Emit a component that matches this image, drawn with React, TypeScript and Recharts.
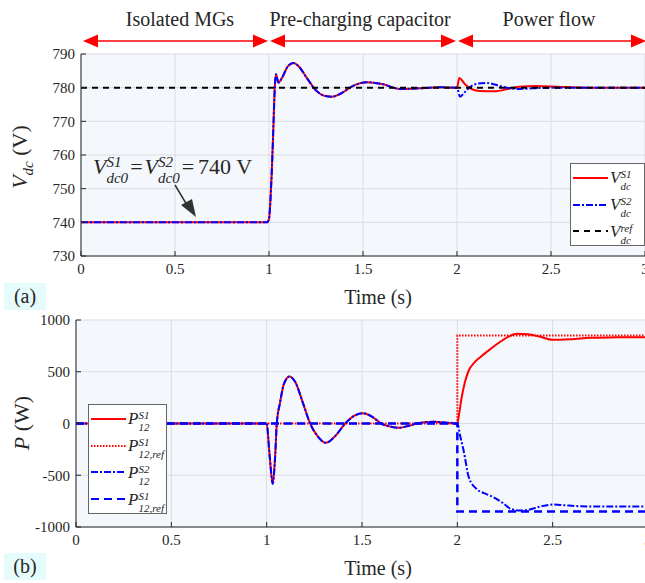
import { LineChart, Line, XAxis, YAxis, CartesianGrid } from 'recharts';

const FONT = '"Liberation Serif", Tinos, "Times New Roman", "Nimbus Roman", "DejaVu Serif", serif';
const INK = '#262626';
const RED = '#FF0000';
const BLUE = '#0000FF';
const BG = '#F4F7FC';
const GRID = '#DADDE2';

const T_TICKS = [0, 0.5, 1, 1.5, 2, 2.5, 3];
const V_TICKS = [730, 740, 750, 760, 770, 780, 790];
const P_TICKS = [-1000, -500, 0, 500, 1000];

// Vdc: both stations follow the same trace until the power flow starts at 2 s
const V_PRE_T = [0, 0.99, 1.0, 1.007, 1.014, 1.022, 1.03, 1.037, 1.05, 1.07, 1.1, 1.13, 1.16, 1.2, 1.25, 1.3, 1.335, 1.38, 1.45, 1.52, 1.6, 1.7, 1.8, 1.9, 2.0];
const V_PRE = [740, 740, 741, 746, 754, 766, 779, 784, 781.5, 783, 786.3, 787.3, 786.2, 783, 779.2, 777.5, 777.3, 778.2, 780.6, 781.6, 781.1, 779.6, 779.8, 780.1, 780];
const V1_POST_T = [2.012, 2.04, 2.07, 2.12, 2.2, 2.27, 2.33, 2.42, 2.55, 2.7, 3.0];
const V1_POST = [782.9, 781.2, 779.8, 779.0, 778.9, 779.6, 780.3, 780.5, 780.2, 780, 780];
const V2_POST_T = [2.016, 2.04, 2.07, 2.11, 2.16, 2.22, 2.28, 2.33, 2.4, 2.55, 2.7, 3.0];
const V2_POST = [777.3, 778.6, 780.2, 781.2, 781.4, 780.6, 779.8, 779.6, 779.8, 780, 780, 780];
const VREF_T = [0, 3];
const VREF = [780, 780];

// Power P12
const P_PRE_T = [0, 1.0, 1.015, 1.032, 1.045, 1.053, 1.07, 1.09, 1.12, 1.15, 1.19, 1.228, 1.27, 1.31, 1.36, 1.412, 1.46, 1.503, 1.55, 1.6, 1.65, 1.69, 1.74, 1.79, 1.83, 1.876, 1.93, 2.0];
const P_PRE = [0, 0, -300, -583, -300, 0, 200, 380, 454, 400, 200, 0, -130, -187, -120, 0, 75, 100, 70, 0, -30, -42, -25, 0, 12, 17, 10, 0];
const P1_POST_T = [2.01, 2.02, 2.04, 2.06, 2.09, 2.12, 2.16, 2.21, 2.26, 2.313, 2.37, 2.43, 2.5, 2.6, 2.7, 2.8, 2.9, 3.0];
const P1_POST = [100, 222, 400, 512, 590, 641, 700, 770, 830, 866, 862, 840, 808, 815, 828, 832, 833, 832];
const P2_POST_T = [2.015, 2.033, 2.06, 2.1, 2.15, 2.19, 2.24, 2.28, 2.33, 2.37, 2.44, 2.505, 2.56, 2.65, 2.8, 3.0];
const P2_POST = [-120, -261, -519, -631, -680, -712, -770, -824, -841, -835, -800, -783, -790, -800, -803, -803];
const PREF_T = [0, 2, 2, 3];
const P1_REF = [0, 0, 850, 850];
const P2_REF = [0, 0, -850, -850];

const zip = (t: number[], v: number[]) => t.map((x, i) => ({ t: x, v: v[i] }));

const v1 = zip([...V_PRE_T, ...V1_POST_T], [...V_PRE, ...V1_POST]);
const v2 = zip([...V_PRE_T, ...V2_POST_T], [...V_PRE, ...V2_POST]);
const vref = zip(VREF_T, VREF);
const p1 = zip([...P_PRE_T, ...P1_POST_T], [...P_PRE, ...P1_POST]);
const p2 = zip([...P_PRE_T, ...P2_POST_T], [...P_PRE, ...P2_POST]);
const p1ref = zip(PREF_T, P1_REF);
const p2ref = zip(PREF_T, P2_REF);

const GAP = 6;
const MARK = 5;

function BottomTick({ x, y, payload }: any) {
  return (
    <g>
      <line x1={x} x2={x} y1={y - GAP} y2={y - GAP - MARK} stroke={INK} />
      <text x={x} y={y} dy="0.78em" textAnchor="middle" fontFamily={FONT} fontSize={15} fill={INK}>{payload.value}</text>
    </g>
  );
}

function LeftTick({ x, y, payload }: any) {
  return (
    <g>
      <line x1={x + GAP} x2={x + GAP + MARK} y1={y} y2={y} stroke={INK} />
      <text x={x} y={y} dy="0.35em" textAnchor="end" fontFamily={FONT} fontSize={15} fill={INK}>{payload.value}</text>
    </g>
  );
}

const TopTick = ({ x, y }: any) => <line x1={x} x2={x} y1={y} y2={y + MARK} stroke={INK} />;
const RightTick = ({ x, y }: any) => <line x1={x} x2={x - MARK} y1={y} y2={y} stroke={INK} />;

function Frame({ ticks, domain, yWidth }: { ticks: number[]; domain: [number, number]; yWidth: number }) {
  return [
    <CartesianGrid key="g" stroke={GRID} fill={BG} fillOpacity={1} />,
    <XAxis key="x" dataKey="t" type="number" domain={[0, 3]} ticks={T_TICKS} interval={0} height={34}
      tickSize={0} tickMargin={GAP} tick={(p: any) => <BottomTick {...p} />} axisLine={{ stroke: INK }} />,
    <XAxis key="xt" xAxisId="top" orientation="top" type="number" domain={[0, 3]} ticks={T_TICKS} interval={0} height={0}
      tickSize={0} tickMargin={0} tick={(p: any) => <TopTick {...p} />} axisLine={{ stroke: INK }} />,
    <YAxis key="y" type="number" domain={domain} ticks={ticks} interval={0} width={yWidth} allowDataOverflow
      tickSize={0} tickMargin={GAP} tick={(p: any) => <LeftTick {...p} />} axisLine={{ stroke: INK }} />,
    <YAxis key="yr" yAxisId="right" orientation="right" type="number" domain={domain} ticks={ticks} interval={0} width={0}
      tickSize={0} tickMargin={0} tick={(p: any) => <RightTick {...p} />} axisLine={{ stroke: INK }} />,
  ];
}

function Scripted({ base, sup, sub, size, small }: { base: string; sup: string; sub: string; size: number; small: number }) {
  return (
    <span style={{ display: 'inline-flex', alignItems: 'center', fontStyle: 'italic', lineHeight: 1 }}>
      <span style={{ fontSize: size }}>{base}</span>
      <span style={{ display: 'inline-flex', flexDirection: 'column', fontSize: small, lineHeight: 1.1, marginTop: small * 0.45 }}>
        <span>{sup}</span>
        <span>{sub}</span>
      </span>
    </span>
  );
}

function Sample({ dash, color, width = 2 }: { dash?: string; color: string; width?: number }) {
  return (
    <svg width={35} height={8} style={{ display: 'block', flex: 'none' }}>
      <line x1={0} x2={35} y1={4} y2={4} stroke={color} strokeWidth={width} strokeDasharray={dash} />
    </svg>
  );
}

const V_LEGEND = [
  { color: RED, dash: undefined, sup: 'S1', sub: 'dc' },
  { color: BLUE, dash: '7 2 2 2', sup: 'S2', sub: 'dc' },
  { color: '#000', dash: '6 5', sup: 'ref', sub: 'dc' },
];
const P_LEGEND = [
  { color: RED, dash: undefined, sup: 'S1', sub: '12' },
  { color: RED, dash: '1.5 1.5', sup: 'S1', sub: '12,ref' },
  { color: BLUE, dash: '7 2 2 2', sup: 'S2', sub: '12' },
  { color: BLUE, dash: '8 5', sup: 'S1', sub: '12,ref' },
];

function LegendBox({ items, base, left, top, width, height }: any) {
  return (
    <div style={{ position: 'absolute', left, top, width, height, boxSizing: 'border-box', border: '1px solid #666', background: '#fff',
      display: 'flex', flexDirection: 'column', justifyContent: 'space-evenly', padding: '0 2px', fontFamily: FONT, color: INK, overflow: 'hidden' }}>
      {items.map((it: any, i: number) => (
        <div key={i} style={{ display: 'flex', alignItems: 'center', gap: 2, height: 26 }}>
          <Sample color={it.color} dash={it.dash} />
          <Scripted base={base} sup={it.sup} sub={it.sub} size={17} small={11} />
        </div>
      ))}
    </div>
  );
}

function Arrow2({ x1, x2, y }: { x1: number; x2: number; y: number }) {
  const L = 15;
  const H = 6.5;
  return (
    <g fill={RED} stroke="none">
      <line x1={x1 + L - 2} x2={x2 - L + 2} y1={y} y2={y} stroke={RED} strokeWidth={1.5} />
      <polygon points={`${x1},${y} ${x1 + L},${y - H} ${x1 + L},${y + H}`} />
      <polygon points={`${x2},${y} ${x2 - L},${y - H} ${x2 - L},${y + H}`} />
    </g>
  );
}

const PHASES = [
  { label: 'Isolated MGs', cx: 180, x1: 83, x2: 268 },
  { label: 'Pre-charging capacitor', cx: 360, x1: 270, x2: 456 },
  { label: 'Power flow', cx: 549, x1: 458, x2: 646 },
];

const tag = (text: string, top: number) => (
  <div style={{ position: 'absolute', left: 4, top, width: 42, height: 27, background: '#E6FBFB', fontFamily: FONT, fontSize: 20,
    color: INK, display: 'flex', alignItems: 'center', justifyContent: 'center' }}>{text}</div>
);

const xTitle = (top: number) => (
  <div style={{ position: 'absolute', left: 378, top, transform: 'translate(-50%, -50%)', fontFamily: FONT, fontSize: 20, color: INK, whiteSpace: 'nowrap' }}>Time (s)</div>
);

const yTitle = (cy: number, content: any) => (
  <div style={{ position: 'absolute', left: 22, top: cy, transform: 'translate(-50%, -50%) rotate(-90deg)', fontFamily: FONT, fontSize: 22,
    color: INK, whiteSpace: 'nowrap' }}>{content}</div>
);

export default function App() {
  return (
    <div style={{ position: 'relative', width: 645, height: 583, overflow: 'hidden', background: '#fff' }}>
      <style>{'body{margin:0}'}</style>

      <div style={{ position: 'absolute', left: 0, top: 0 }}>
        <LineChart width={660} height={290} margin={{ top: 54, right: 15, bottom: 0, left: 0 }}>
          {Frame({ ticks: V_TICKS, domain: [730, 790], yWidth: 81 })}
          <Line data={v1} dataKey="v" type="monotone" stroke={RED} strokeWidth={2} dot={false} isAnimationActive={false} />
          <Line data={v2} dataKey="v" type="monotone" stroke={BLUE} strokeWidth={2} strokeDasharray="7 2 2 2" dot={false} isAnimationActive={false} />
          <Line data={vref} dataKey="v" type="linear" stroke="#000" strokeWidth={2} strokeDasharray="6 5" dot={false} isAnimationActive={false} />
        </LineChart>
      </div>

      <div style={{ position: 'absolute', left: 0, top: 290 }}>
        <LineChart width={663} height={271} margin={{ top: 30, right: 15, bottom: 0, left: 0 }}>
          {Frame({ ticks: P_TICKS, domain: [-1000, 1000], yWidth: 76 })}
          <Line data={p1} dataKey="v" type="monotone" stroke={RED} strokeWidth={2} dot={false} isAnimationActive={false} />
          <Line data={p1ref} dataKey="v" type="linear" stroke={RED} strokeWidth={2} strokeDasharray="1.5 1.5" dot={false} isAnimationActive={false} />
          <Line data={p2} dataKey="v" type="monotone" stroke={BLUE} strokeWidth={2} strokeDasharray="7 2 2 2" dot={false} isAnimationActive={false} />
          <Line data={p2ref} dataKey="v" type="linear" stroke={BLUE} strokeWidth={2.5} strokeDasharray="8 5" dot={false} isAnimationActive={false} />
        </LineChart>
      </div>

      <svg width={645} height={583} style={{ position: 'absolute', left: 0, top: 0, pointerEvents: 'none' }}>
        {PHASES.map((p) => (
          <g key={p.label}>
            <text x={p.cx} y={26} textAnchor="middle" fontFamily={FONT} fontSize={20} fill={INK}>{p.label}</text>
            <Arrow2 x1={p.x1} x2={p.x2} y={41} />
          </g>
        ))}
        <line x1={175} y1={185} x2={187} y2={205} stroke="#333" strokeWidth={1.5} />
        <polygon points="196,217 181,205 192,199" fill="#333" />
      </svg>

      <div style={{ position: 'absolute', left: 93, top: 147, fontFamily: FONT, fontSize: 22, color: INK, whiteSpace: 'nowrap', display: 'flex', alignItems: 'center' }}>
        <Scripted base="V" sup="S1" sub="dc0" size={22} small={15} />
        <span style={{ margin: '0 2px' }}>=</span>
        <Scripted base="V" sup="S2" sub="dc0" size={22} small={15} />
        <span style={{ margin: '0 4px 0 2px' }}>=</span>
        <span>740 V</span>
      </div>

      <LegendBox items={V_LEGEND} base="V" left={570} top={163} width={75} height={83} />
      <LegendBox items={P_LEGEND} base="P" left={88} top={404} width={79} height={110} />

      {yTitle(157, <span><i>V</i><sub style={{ fontStyle: 'italic', fontSize: 15 }}>dc</sub> (V)</span>)}
      {yTitle(423, <span><i>P</i> (W)</span>)}
      {xTitle(297)}
      {xTitle(568)}
      {tag('(a)', 283)}
      {tag('(b)', 553)}
    </div>
  );
}
